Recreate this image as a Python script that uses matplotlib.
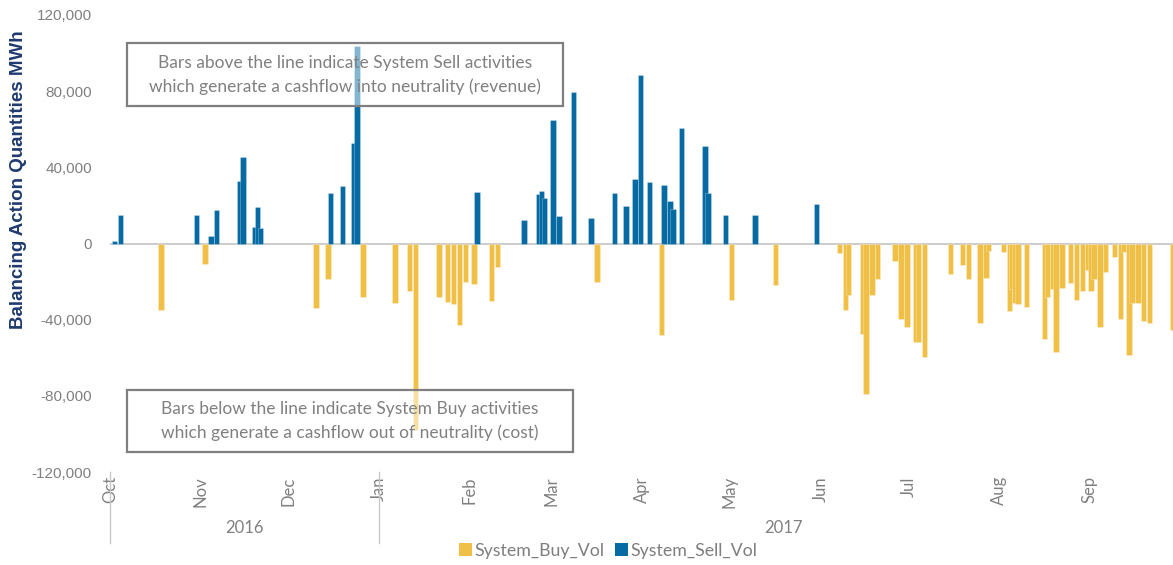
import matplotlib
matplotlib.use("Agg")
import matplotlib.pyplot as plt
import matplotlib.dates as mdates
from matplotlib.patches import Rectangle, Patch
from matplotlib.lines import Line2D
from matplotlib.ticker import FuncFormatter
import pandas as pd
import numpy as np

# ---------------- data ----------------
sell_dates = ["2016-10-02", "2016-10-04", "2016-10-30", "2016-11-04", "2016-11-06",
              "2016-11-14", "2016-11-15", "2016-11-19", "2016-11-20", "2016-11-21",
              "2016-12-15", "2016-12-19", "2016-12-23", "2016-12-24",
              "2017-02-03", "2017-02-19", "2017-02-24", "2017-02-25", "2017-02-26",
              "2017-03-01", "2017-03-03", "2017-03-08", "2017-03-14", "2017-03-22",
              "2017-03-26", "2017-03-29", "2017-03-31", "2017-04-03", "2017-04-08",
              "2017-04-10", "2017-04-11", "2017-04-14", "2017-04-22", "2017-04-23",
              "2017-04-29", "2017-05-09", "2017-05-30"]
sell_vol = [1500, 15000, 15000, 3700, 17800,
            32600, 45400, 8900, 19000, 8000,
            26500, 30000, 52800, 103500,
            27200, 12500, 25800, 27700, 24000,
            65000, 14400, 79800, 13500, 26600,
            19800, 34000, 88600, 32500, 30500,
            22400, 18300, 60900, 51400, 26700,
            15000, 15000, 21000]

buy_dates = ["2016-10-18", "2016-11-02", "2016-12-10", "2016-12-14", "2016-12-26",
             "2017-01-06", "2017-01-11", "2017-01-13", "2017-01-21", "2017-01-24",
             "2017-01-26", "2017-01-28", "2017-01-30", "2017-02-02", "2017-02-08",
             "2017-02-10", "2017-03-16", "2017-04-07", "2017-05-01", "2017-05-16",
             "2017-06-07", "2017-06-09", "2017-06-10", "2017-06-15", "2017-06-16",
             "2017-06-18", "2017-06-20", "2017-06-26", "2017-06-28", "2017-06-30",
             "2017-07-03", "2017-07-04", "2017-07-06", "2017-07-15", "2017-07-19",
             "2017-07-21", "2017-07-25", "2017-07-27", "2017-07-28", "2017-08-02",
             "2017-08-04", "2017-08-05", "2017-08-06", "2017-08-07", "2017-08-10",
             "2017-08-16", "2017-08-17", "2017-08-19", "2017-08-20", "2017-08-22",
             "2017-08-25", "2017-08-27", "2017-08-29", "2017-08-31", "2017-09-01",
             "2017-09-02", "2017-09-04", "2017-09-06", "2017-09-09", "2017-09-11",
             "2017-09-12", "2017-09-14", "2017-09-15", "2017-09-17", "2017-09-19",
             "2017-09-21", "2017-09-29"]
buy_vol = [-34700, -11000, -33900, -18500, -27900,
           -31000, -25000, -97900, -27900, -30600,
           -32000, -43000, -20400, -21200, -30000,
           -12500, -20400, -48300, -29900, -21800,
           -4800, -34700, -26800, -47700, -79000,
           -26800, -18600, -9300, -39500, -43700,
           -51700, -51700, -59800, -16000, -11200,
           -18600, -41600, -17900, -4200, -4700,
           -35200, -24000, -31000, -31600, -33500,
           -50300, -28000, -23700, -57000, -23300,
           -20700, -29500, -24700, -14100, -24700,
           -18600, -43600, -15100, -7000, -39500,
           -4400, -58400, -31500, -31400, -40600,
           -41600, -45600]

month_labels = ["Oct", "Nov", "Dec", "Jan", "Feb", "Mar", "Apr", "May", "Jun", "Jul", "Aug", "Sep"]
month_starts = ["2016-10-01", "2016-11-01", "2016-12-01", "2017-01-01", "2017-02-01", "2017-03-01",
                "2017-04-01", "2017-05-01", "2017-06-01", "2017-07-01", "2017-08-01", "2017-09-01"]
year_labels = ["2016", "2017"]
y_ticks = [-120000, -80000, -40000, 0, 40000, 80000, 120000]
series_names = ["System_Buy_Vol", "System_Sell_Vol"]

# ---------------- style ----------------
BUY = "#F0BF45"
SELL = "#066BA2"
W, H = 1173, 565

fig = plt.figure(figsize=(W / 100, H / 100), dpi=100)

def fx(px):
    return px / W

def fy(py):
    return 1 - py / H

ax = fig.add_axes([fx(110), fy(472), 1 - fx(110) + 0.002, fy(15) - fy(472)])

sd = mdates.date2num(pd.to_datetime(sell_dates))
bd = mdates.date2num(pd.to_datetime(buy_dates))
edge = (1, 1, 1, 0.45)
bw = 1.85
ax.bar(bd, buy_vol, width=bw, color=BUY, edgecolor=edge, linewidth=0.4, zorder=2)
ax.bar(sd, sell_vol, width=bw, color=SELL, edgecolor=edge, linewidth=0.4, zorder=3)

ax.axhline(0, color="#C8C8C8", linewidth=1.3, zorder=1.5)

x0 = mdates.date2num(pd.Timestamp("2016-10-01")) - 0.5
x1 = x0 + 364.3
ax.set_xlim(x0, x1)
ax.set_ylim(-120000, 120000)

ax.set_yticks(y_ticks)
ax.yaxis.set_major_formatter(FuncFormatter(lambda v, p: f"{int(v):,}"))
ax.tick_params(axis="y", length=0, pad=13, labelsize=11, labelcolor="#808080")
for lab in ax.get_yticklabels():
    lab.set_fontfamily("Liberation Sans")

mpos = mdates.date2num(pd.to_datetime(month_starts)) - 0.5
ax.set_xticks(mpos)
ax.set_xticklabels(month_labels, rotation=90, fontsize=12, color="#808080",
                   fontfamily="Lato", va="top")
ax.tick_params(axis="x", length=0, pad=3)

for s in ax.spines.values():
    s.set_visible(False)

# group separator lines and year labels
trans = ax.get_xaxis_transform()
jan_pos = mpos[3]
for xp in (mpos[0], jan_pos):
    ax.add_line(Line2D([xp, xp], [0, -(543 - 472) / (472 - 15)], transform=trans,
                       color="#C8C8C8", linewidth=1.0, clip_on=False))
yl = -(528 - 472) / (472 - 15)
ax.text((mpos[0] + jan_pos) / 2, yl, year_labels[0], transform=trans,
        ha="center", va="center", fontsize=12, color="#808080", fontfamily="Lato")
ax.text((jan_pos + x1 + 4) / 2, yl, year_labels[1], transform=trans,
        ha="center", va="center", fontsize=12, color="#808080", fontfamily="Lato")

# y-axis title
fig.text(fx(19), fy(180), "Balancing Action Quantities MWh", rotation=90, ha="center", va="center",
         fontsize=13.5, fontweight="bold", color="#1F3A6E", fontfamily="Liberation Sans")

# annotation boxes
def box(x1, y1, x2, y2, lines):
    r = Rectangle((fx(x1), fy(y2)), fx(x2) - fx(x1), fy(y1) - fy(y2), transform=fig.transFigure,
                  facecolor=(1, 1, 1, 0.5), edgecolor="#7F7F7F", linewidth=1.6, zorder=5)
    fig.patches.append(r)
    cx = (x1 + x2) / 2
    cy = (y1 + y2) / 2
    fig.text(fx(cx), fy(cy - 12), lines[0], ha="center", va="center", fontsize=12.5,
             color="#808080", fontfamily="Lato", zorder=6)
    fig.text(fx(cx), fy(cy + 12), lines[1], ha="center", va="center", fontsize=12.5,
             color="#808080", fontfamily="Lato", zorder=6)

box(127, 43, 563, 106, ["Bars above the line indicate System Sell activities",
                        "which generate a cashflow into neutrality (revenue)"])
box(127, 390, 573, 452, ["Bars below the line indicate System Buy activities",
                         "which generate a cashflow out of neutrality (cost)"])

# legend
handles = [Patch(facecolor=BUY, edgecolor="none"), Patch(facecolor=SELL, edgecolor="none")]
leg = fig.legend(handles, series_names, loc="center", bbox_to_anchor=(fx(608), fy(551)),
                 ncol=2, frameon=False, handlelength=0.75, handleheight=0.75,
                 handletextpad=0.12, columnspacing=0.6, borderaxespad=0,
                 prop={"family": "Lato", "size": 12.8})
for t in leg.get_texts():
    t.set_color("#7F7F7F")

fig.savefig("out.png", dpi=100)
